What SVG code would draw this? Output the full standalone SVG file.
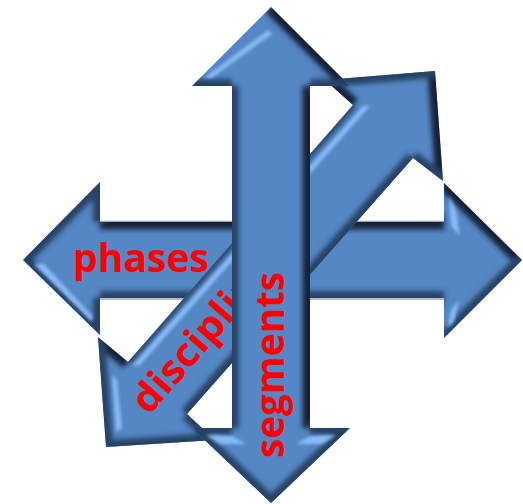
<svg xmlns="http://www.w3.org/2000/svg" width="523" height="504" viewBox="0 0 523 504">
<defs>
<style>
.base{fill:#5587c4}
.k{fill:none;stroke:#14233a;stroke-width:15}
.n{fill:none;stroke:#274366;stroke-width:14}
.nt{fill:none;stroke:#274366;stroke-width:7}
.lt{fill:#86baf5}
.hair{stroke:#9aa5b5;stroke-width:1.5;fill:none}
.lbl{font-family:"Open Sans","Liberation Sans",sans-serif;font-weight:700;fill:#ff0000;font-size:39px}
</style>
<filter id="b" filterUnits="userSpaceOnUse" x="0" y="0" width="523" height="504"><feGaussianBlur stdDeviation="2.6"/></filter>
<filter id="s" filterUnits="userSpaceOnUse" x="0" y="0" width="523" height="504"><feGaussianBlur stdDeviation="1.4"/></filter>
<clipPath id="cH"><polygon points="23,260 100,182 100,222 444,222 444,183 522,260 444,338 444,298 100,298 100,335"/></clipPath>
<clipPath id="cD"><polygon points="435,71 325,80 353,105 128,362 98,337 106,447 215,440 187,414 413,158 443,181"/></clipPath>
<clipPath id="cV"><polygon points="271,7 350,86 310,86 310,428 350,428 271,503 192,428 232,428 232,86 192,86"/></clipPath>
</defs>
<g id="arrow-phases">
<path class="hair" d="M100 221.5H232M310 221.5H444M100 299H232M310 299H444"/>
<g clip-path="url(#cH)">
<rect class="base" width="523" height="504"/>
<g filter="url(#b)">
<path class="k" d="M100 222H444M444 183L522 260"/>
<path class="n" d="M100 298H444M100 182V222M100 298V335M23 260L100 182M100 335L23 260M444 338L522 260"/>
</g>
<g filter="url(#s)">
<polygon class="lt" points="34,264 44,264 93,316 92,322"/>
<polygon class="lt" points="449,196 456,210 460,236 451,226"/>
<polygon class="lt" points="451,310 459,300 454,322 447,328"/>
</g>
</g>
</g>
<g id="arrow-disciplines">
<g clip-path="url(#cD)">
<rect class="base" width="523" height="504"/>
<g filter="url(#b)">
<path class="k" d="M435 71L443 181M325 80L353 105M98 337L128 362"/>
<path class="n" d="M435 71L325 80M413 158L187 414M413 158L443 181M106 447L215 440M98 337L106 447M187 414L215 440"/>
<path class="nt" d="M353 105L128 362"/>
</g>
<g filter="url(#s)">
<polygon class="lt" points="363,106 370,106 140,365 132,366"/>
<polygon class="lt" points="112,375 117,380 122,428 116,432"/>
</g>
</g>
<text class="lbl" transform="translate(149,416) rotate(-48.8)" textLength="218" lengthAdjust="spacingAndGlyphs">disciplines</text>
</g>
<g id="arrow-segments">
<g clip-path="url(#cV)">
<rect class="base" width="523" height="504"/>
<g filter="url(#b)">
<path class="k" d="M310 86V428M271 7L350 86"/>
<path class="n" d="M232 86V428M192 86H232M310 86H350M192 428H232M310 428H350M350 428L271 503M192 428L271 503"/>
</g>
<g filter="url(#s)">
<polygon class="lt" points="268,30 272,34 212,78 204,78"/>
<polygon class="lt" points="206,435 232,436 246,444 220,444"/>
<polygon class="lt" points="296,444 310,436 336,435 322,444"/>
</g>
</g>
</g>
<text id="label-phases" class="lbl" x="73" y="272" textLength="136" lengthAdjust="spacingAndGlyphs">phases</text>
<text id="label-segments" class="lbl" transform="translate(284,458) rotate(-90)" textLength="186" lengthAdjust="spacingAndGlyphs">segments</text>
</svg>
